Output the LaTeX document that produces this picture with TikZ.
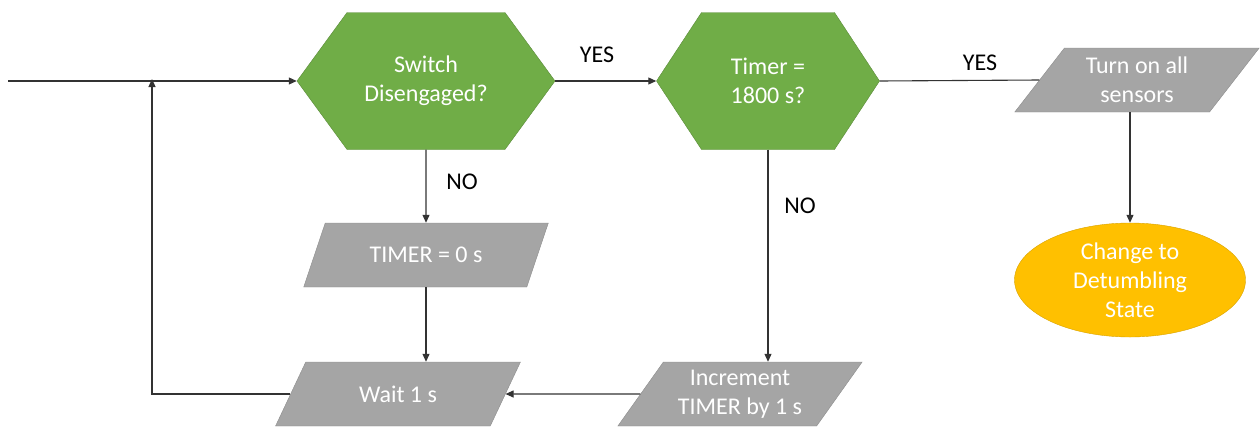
\documentclass[tikz,border=0pt]{standalone}
\usepackage{fontspec}
\setmainfont{Carlito}
\usetikzlibrary{shapes.symbols,shapes.geometric,arrows.meta}
\definecolor{hexgreen}{HTML}{70AD47}
\definecolor{boxgray}{HTML}{A5A5A5}
\definecolor{endorange}{HTML}{FFC000}
\begin{document}
\begin{tikzpicture}[x=1pt,y=-1pt]
	\tikzstyle{every node}=[font=\fontsize{24}{29}\selectfont,align=center]
	\tikzstyle{decide}=[signal,signal to=west and east,fill=hexgreen,draw=hexgreen!80!black,text=white,minimum height=137pt,inner sep=0pt]
	\tikzstyle{act}=[trapezium,trapezium left angle=52.6,trapezium right angle=127.4,trapezium stretches=true,fill=boxgray,draw=boxgray!85!black,text=white,minimum width=245pt,minimum height=64pt,inner sep=0pt]
	\tikzstyle{arr}=[-{Triangle[length=8pt,width=7pt]}]
	\tikzstyle{line}=[draw=black!80,line width=1.1pt]
	\useasboundingbox (0,0) rectangle (1260,426);
	\coordinate (start) at (8,81);
	\coordinate (loop) at (152,81);
	\node[decide,signal pointer angle=107.7,minimum width=258pt] (sw) at (426,81) {Switch\\Disengaged?};
	\node[decide,signal pointer angle=113.4,minimum width=223pt] (tm) at (768,81) {Timer =\\1800 s?};
	\node[act] (sens) at (1137,80) {Turn on all\\sensors};
	\node[ellipse,fill=endorange,draw=endorange!85!black,text=white,minimum width=231pt,minimum height=114pt,inner sep=0pt] (det) at (1130,280) {Change to\\Detumbling\\State};
	\node[act] (zero) at (426,255) {TIMER = 0 s};
	\node[act] (wait) at (398,394) {Wait 1 s};
	\node[act] (inc) at (740,394) {Increment\\TIMER by 1 s};
	\node (yes1) at (597,55) {YES};
	\node (yes2) at (980,63) {YES};
	\node (no1) at (462,182) {NO};
	\node (no2) at (800,206) {NO};
	\draw[line,arr] (start) -- (sw.west);
	\draw[line,arr] (sw.east) -- (tm.west);
	\draw[line] (tm.east) -- (sens.west);
	\draw[line,arr] (det.north |- sens.south) -- (det.north);
	\draw[line,arr] (sw.south) -- (zero.north);
	\draw[line,arr] (zero.south) -- (zero.south |- wait.north);
	\draw[line,arr] (tm.south) -- (tm.south |- inc.north);
	\draw[line,arr] (inc.west) -- (wait.east);
	\draw[line,arr] (wait.west) -| ([yshift=2pt]loop);
\end{tikzpicture}
\end{document}
